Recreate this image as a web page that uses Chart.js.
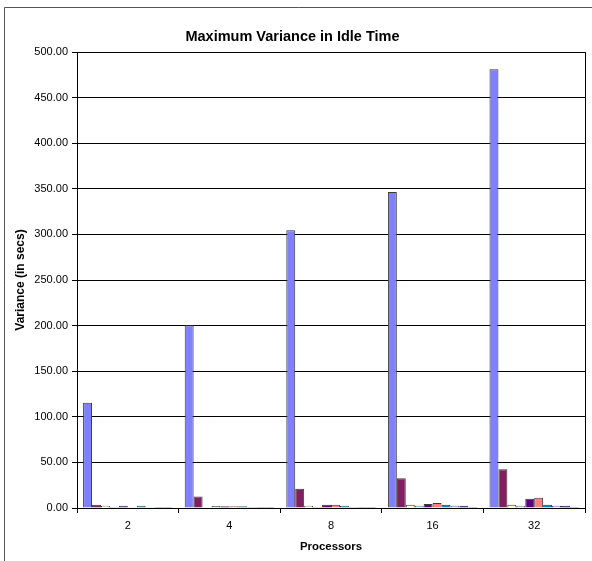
<!DOCTYPE html>
<html>
<head>
<meta charset="utf-8">
<script src="https://cdn.jsdelivr.net/npm/chart.js@4.4.0/dist/chart.umd.min.js"></script>
<style>
  html, body { margin: 0; padding: 0; background: #fff; }
  #wrap { width: 592px; height: 561px; }
</style>
</head>
<body>
<div id="wrap"><canvas id="c" width="592" height="561"></canvas></div>
<script>
// Processor counts on the category axis
const processors = ['2', '4', '8', '16', '32'];

// Maximum idle-time variance (secs) per run, one array per series
const series1 = [115.5, 200.5, 304.5, 346.5, 481.0];
const series2 = [3.5, 12.5, 21.0, 32.5, 42.5];
const series3 = [2.5, 0.6, 2.5, 3.5, 3.5];
const series4 = [1.0, 2.2, 1.0, 2.5, 2.5];
const series5 = [2.5, 2.0, 3.5, 4.5, 10.2];
const series6 = [0.4, 2.0, 3.5, 5.5, 11.2];
const series7 = [2.5, 2.0, 2.5, 3.5, 3.5];
const series8 = [0.4, 1.0, 1.0, 2.5, 2.5];
const series9 = [1.0, 1.0, 1.0, 2.5, 2.5];
const series10 = [1.0, 1.0, 1.0, 1.0, 1.2];

// Value-axis range and step
const yMin = 0;
const yMax = 500;
const yStep = 50;

const seriesData = [series1, series2, series3, series4, series5,
                    series6, series7, series8, series9, series10];
const seriesColors = ['#8080FF', '#802060', '#FFFFC0', '#A0E0E0', '#600080',
                      '#FF8080', '#0080C0', '#C0C0FF', '#000080', '#1a1a1a'];

const datasets = seriesData.map((d, i) => ({
  label: 'Series ' + (i + 1),
  data: d,
  backgroundColor: seriesColors[i],
  borderColor: '#3a3a3a',
  borderWidth: 1,
  categoryPercentage: 0.88,
  barPercentage: 1.0
}));

// Frame around the whole chart and the box around the plot area
const framePlugin = {
  id: 'frame',
  beforeDraw(chart) {
    const ctx = chart.ctx;
    ctx.save();
    ctx.fillStyle = '#ffffff';
    ctx.fillRect(0, 0, chart.width, chart.height);
    ctx.strokeStyle = '#555555';
    ctx.lineWidth = 1;
    ctx.beginPath();
    ctx.moveTo(4.5, chart.height + 2);
    ctx.lineTo(4.5, 7.5);
    ctx.lineTo(chart.width + 2, 7.5);
    ctx.stroke();
    ctx.restore();
  },
  afterDraw(chart) {
    const a = chart.chartArea;
    const ctx = chart.ctx;
    ctx.save();
    ctx.strokeStyle = '#000000';
    ctx.lineWidth = 1;
    ctx.strokeRect(Math.round(a.left) + 0.5, Math.round(a.top) + 0.5,
                   Math.round(a.right - a.left), Math.round(a.bottom - a.top));
    ctx.restore();
  }
};

const fontFamily = '"Liberation Sans", Arial, sans-serif';

new Chart(document.getElementById('c'), {
  type: 'bar',
  data: { labels: processors, datasets: datasets },
  plugins: [framePlugin],
  options: {
    responsive: false,
    animation: false,
    devicePixelRatio: 1,
    layout: { padding: { left: 0, right: 7, top: 0, bottom: 0 } },
    plugins: {
      legend: { display: false },
      tooltip: { enabled: false },
      title: {
        display: true,
        text: 'Maximum Variance in Idle Time',
        color: '#000',
        font: { family: fontFamily, size: 14.5, weight: 'bold' },
        padding: { top: 28.3, bottom: 6.3 }
      }
    },
    scales: {
      x: {
        grid: {
          display: true,
          offset: true,
          drawOnChartArea: false,
          drawTicks: true,
          tickLength: 5,
          color: '#000'
        },
        border: { display: true, color: '#000', width: 1 },
        ticks: {
          color: '#000',
          padding: 6,
          font: { family: fontFamily, size: 11 }
        },
        title: {
          display: true,
          text: 'Processors',
          color: '#000',
          font: { family: fontFamily, size: 11.4, weight: 'bold' },
          padding: { top: 2, bottom: 7.2 }
        },
        afterFit(scale) { scale.height = 53; }
      },
      y: {
        min: yMin,
        max: yMax,
        grid: {
          color: '#000',
          lineWidth: 1,
          drawTicks: true,
          tickLength: 5
        },
        border: { display: true, color: '#000', width: 1 },
        ticks: {
          stepSize: yStep,
          color: '#000',
          padding: 4,
          font: { family: fontFamily, size: 11 },
          callback: (v) => Number(v).toFixed(2)
        },
        title: {
          display: true,
          text: 'Variance (in secs)',
          color: '#000',
          font: { family: fontFamily, size: 12, weight: 'bold' },
          padding: { top: 13.6, bottom: 0 }
        },
        afterFit(scale) { scale.width = 77; }
      }
    }
  }
});
</script>
</body>
</html>
